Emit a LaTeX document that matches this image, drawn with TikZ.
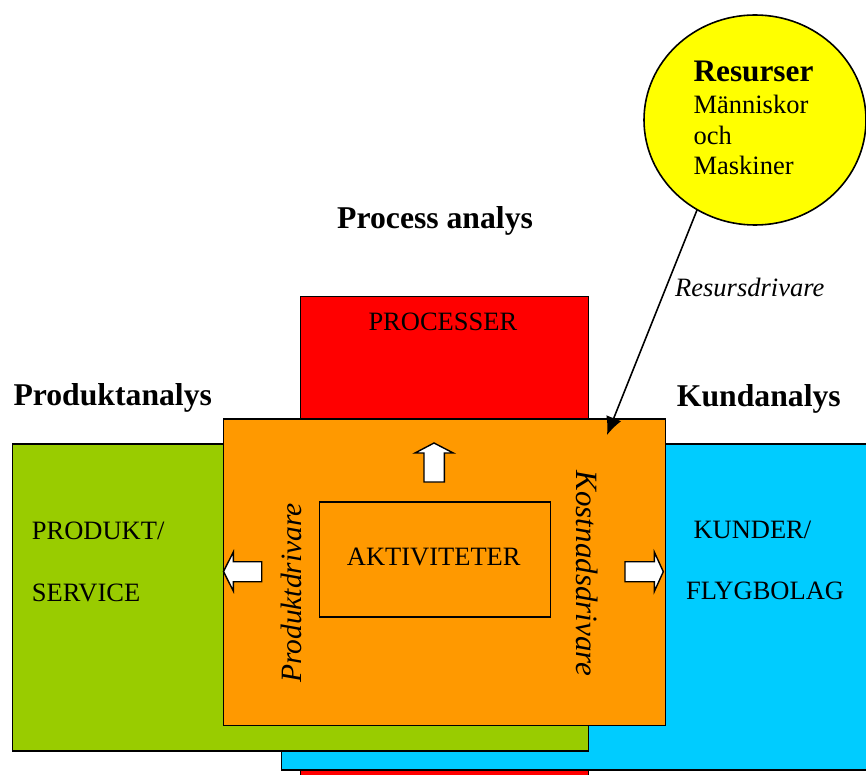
\documentclass[tikz,border=0pt]{standalone}
\usepackage{fontspec}
\setmainfont{Liberation Serif}
\usetikzlibrary{arrows.meta,shapes.geometric}
\definecolor{procred}{HTML}{FF0000}
\definecolor{prodgreen}{HTML}{99CC00}
\definecolor{kundblue}{HTML}{00CCFF}
\definecolor{aktorange}{HTML}{FF9900}
\definecolor{resyellow}{HTML}{FFFF00}
\newcommand{\fsnorm}{\fontsize{26.5}{30}\selectfont}
\newcommand{\fsbig}{\fontsize{31.7}{36}\selectfont}
\begin{document}
\begin{tikzpicture}[x=1pt,y=-1pt,
  panel/.style={draw=black,line width=1.6pt,rectangle,inner sep=0pt,anchor=north west},
  lbl/.style={inner sep=0pt,anchor=base west,font=\fsnorm},
  heading/.style={inner sep=0pt,anchor=base west,font=\fsbig\bfseries},
  blockarrow/.style={draw=black,fill=white,line width=1.4pt,line join=miter}]
\useasboundingbox (0,0) rectangle (866,775);
\clip (0,0) rectangle (866,775);

% stacked panels, back to front
\node[panel,fill=procred,minimum width=288pt,minimum height=520pt] (proc) at (299.5,295.5) {};
\node[panel,fill=kundblue,minimum width=640pt,minimum height=326pt] (kund) at (280.5,443) {};
\node[panel,fill=prodgreen,minimum width=576pt,minimum height=307pt] (prod) at (11.5,443) {};
\node[panel,fill=aktorange,minimum width=442pt,minimum height=306.5pt] (akt) at (222.5,418) {};
\node[panel,fill=aktorange,minimum width=231pt,minimum height=115pt] (aktin) at (318.5,501) {};

% panel texts
\node[lbl] (tproc) at (368.3,330) {PROCESSER};
\node[lbl] (taktin) at (346.7,565) {AKTIVITETER};
\node[lbl] (tprod1) at (31.7,539) {PRODUKT/};
\node[lbl] (tprod2) at (31.7,601) {SERVICE};
\node[lbl] (tkund1) at (693.3,538.3) {KUNDER/};
\node[lbl] (tkund2) at (686,599.3) {FLYGBOLAG};
\node[inner sep=0pt,rotate=90,font=\fontsize{29.5}{32}\selectfont\itshape] (tpd) at (291.5,593) {Produktdrivare};
\node[inner sep=0pt,rotate=-90,font=\fontsize{31}{34}\selectfont\itshape] (tkd) at (587.5,573.5) {Kostnadsdrivare};

% headings
\node[heading] (hproc) at (337,229) {Process analys};
\node[heading] (hprod) at (13.3,405) {Produktanalys};
\node[heading] (hkund) at (676.7,406.7) {Kundanalys};

% block arrows out of the activity box
\draw[blockarrow] (434,443) -- (453.3,453) -- (444.3,453) -- (444.3,482) -- (424,482) -- (424,453) -- (415,453) -- cycle;
\draw[blockarrow] (223.5,571.5) -- (233.3,552) -- (233.3,561.7) -- (261.7,561.7) -- (261.7,581.7) -- (233.3,581.7) -- (233.3,591) -- cycle;
\draw[blockarrow] (663.3,571.7) -- (654.3,552) -- (654.3,561.7) -- (625,561.7) -- (625,581.7) -- (654.3,581.7) -- (654.3,591.5) -- cycle;

% resources
\node[draw=black,line width=1.6pt,fill=resyellow,ellipse,minimum width=222pt,minimum height=210pt,inner sep=0pt] (res) at (755,120) {};
\node[inner sep=0pt,anchor=base west,font=\fontsize{31.3}{34}\selectfont\bfseries] (tres) at (693.3,81.7) {Resurser};
\node[lbl] (tres1) at (693.3,113.3) {Människor};
\node[lbl] (tres2) at (693.3,145) {och};
\node[lbl] (tres3) at (693.3,175) {Maskiner};

\coordinate (rstart) at (697,210);
\coordinate (rtip) at (607,435);
\draw[line width=1.6pt,-{Latex[length=18pt,width=16pt]}] (rstart) -- (rtip);
\node[lbl,font=\fsnorm\itshape] (tresd) at (675,296.7) {Resursdrivare};
\end{tikzpicture}
\end{document}
